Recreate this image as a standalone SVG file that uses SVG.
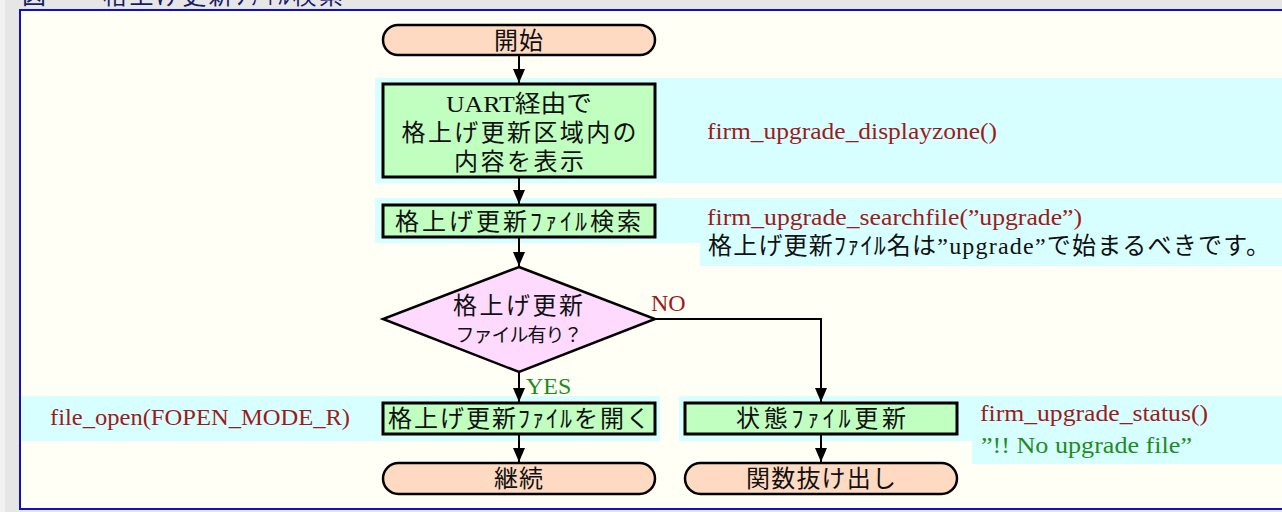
<svg xmlns="http://www.w3.org/2000/svg" width="1282" height="512" viewBox="0 0 1282 512">
<defs>
<style>
.t{font-family:"Liberation Serif","Noto Sans CJK JP",serif;font-size:24px;fill:#111;text-anchor:middle}
.c{font-family:"Liberation Serif","Noto Sans CJK JP",serif;font-size:24px;fill:#9b1c1c}
.g{fill:#1e8c1e}
.k{fill:#111}
.band{fill:#d8ffff}
.term{fill:#ffdac2;stroke:#000;stroke-width:2.5}
.proc{fill:#c0ffc0;stroke:#000;stroke-width:3}
.dec{fill:#ffdaff;stroke:#000;stroke-width:2.5}
.ln{fill:none;stroke:#000;stroke-width:2}
</style>
<marker id="ad" markerUnits="userSpaceOnUse" markerWidth="14" markerHeight="14" viewBox="0 0 14 14" refX="14" refY="7" orient="auto">
<path d="M0,1 L14,7 L0,13 Z" fill="#000"/>
</marker>
</defs>
<rect width="1282" height="512" fill="#e6e6e6"/>
<rect width="5" height="512" fill="#f2f2f2"/>
<g id="title">
<text x="22" y="4" style="font-family:'Liberation Serif','Noto Sans CJK JP',serif;font-size:24px;fill:#1a1a66">図</text>
<text x="103" y="4" textLength="240" style="font-family:'Liberation Serif','Noto Sans CJK JP',serif;font-size:24px;fill:#1a1a66">格上げ更新ﾌｧｲﾙ検索</text>
</g>
<rect x="20" y="10" width="1270" height="499" fill="#fffff5" stroke="#1010cc" stroke-width="2"/>
<g id="bands">
<rect class="band" x="375" y="78" width="907" height="105"/>
<rect class="band" x="375" y="198" width="907" height="45"/>
<rect class="band" x="700" y="243" width="582" height="23"/>
<rect class="band" x="22" y="396" width="638" height="45"/>
<rect class="band" x="679" y="396" width="603" height="45"/>
<rect class="band" x="972" y="441" width="310" height="23"/>
</g>
<g id="connectors">
<path class="ln" d="M519,55 V83" marker-end="url(#ad)"/>
<path class="ln" d="M519,177 V204" marker-end="url(#ad)"/>
<path class="ln" d="M519,237 V266" marker-end="url(#ad)"/>
<path class="ln" d="M519,372 V402" marker-end="url(#ad)"/>
<path class="ln" d="M655,319 H821 V402" marker-end="url(#ad)"/>
<path class="ln" d="M519,434 V462" marker-end="url(#ad)"/>
<path class="ln" d="M821,434 V462" marker-end="url(#ad)"/>
<text class="c" x="651" y="311">NO</text>
<text class="c g" x="526" y="394">YES</text>
</g>
<g id="start">
<rect class="term" x="383" y="25" width="272" height="30" rx="15"/>
<text class="t" x="519" y="49" letter-spacing="1">開始</text>
</g>
<g id="display">
<rect class="proc" x="383" y="84" width="272" height="93"/>
<text class="t" x="519" y="112" textLength="146" lengthAdjust="spacingAndGlyphs">UART経由で</text>
<text class="t" x="519" y="141" textLength="235">格上げ更新区域内の</text>
<text class="t" x="519" y="170" textLength="130">内容を表示</text>
</g>
<g id="search">
<rect class="proc" x="383" y="205" width="272" height="32"/>
<text class="t" x="518" y="230" textLength="246">格上げ更新ﾌｧｲﾙ検索</text>
</g>
<g id="decision">
<polygon class="dec" points="519,267 655,319 519,372 383,319"/>
<text class="t" x="518" y="314" textLength="130">格上げ更新</text>
<text class="t" x="519" y="342" style="font-size:19px" textLength="127">ファイル有り？</text>
</g>
<g id="open">
<rect class="proc" x="383" y="403" width="272" height="31"/>
<text class="t" x="519" y="427" textLength="262">格上げ更新ﾌｧｲﾙを開く</text>
</g>
<g id="status">
<rect class="proc" x="685" y="403" width="272" height="31"/>
<text class="t" x="821" y="427" textLength="170">状態ﾌｧｲﾙ更新</text>
</g>
<g id="continue">
<rect class="term" x="383" y="463" width="272" height="31" rx="15.5"/>
<text class="t" x="519" y="487" letter-spacing="1">継続</text>
</g>
<g id="exit">
<rect class="term" x="685" y="463" width="272" height="31" rx="15.5"/>
<text class="t" x="821" y="487" textLength="150">関数抜け出し</text>
</g>
<g id="comments">
<text class="c" x="707" y="139" textLength="290" lengthAdjust="spacingAndGlyphs">firm_upgrade_displayzone()</text>
<text class="c" x="707" y="225" textLength="375" lengthAdjust="spacingAndGlyphs">firm_upgrade_searchfile(”upgrade”)</text>
<text class="c k" x="708" y="254" textLength="562">格上げ更新ﾌｧｲﾙ名は”upgrade”で始まるべきです。</text>
<text class="c" x="50" y="425" textLength="300" lengthAdjust="spacingAndGlyphs">file_open(FOPEN_MODE_R)</text>
<text class="c" x="980" y="421" textLength="228" lengthAdjust="spacingAndGlyphs">firm_upgrade_status()</text>
<text class="c g" x="981" y="453" textLength="211" lengthAdjust="spacingAndGlyphs">”!! No upgrade file”</text>
</g>
</svg>
